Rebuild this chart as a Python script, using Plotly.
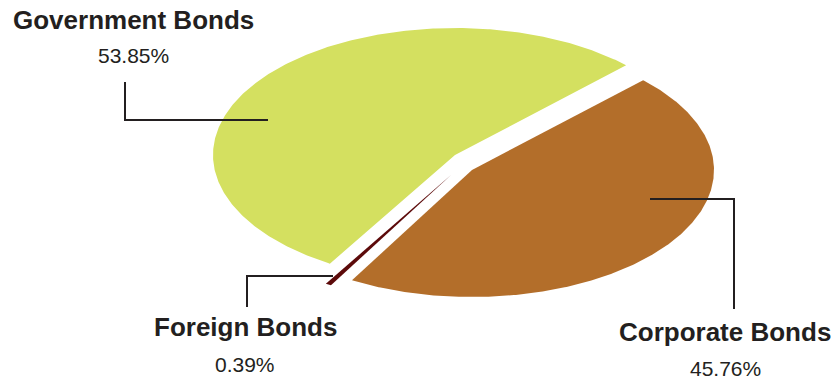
import numpy as np
import plotly.graph_objects as go

# ---- data ----
categories = ["Corporate Bonds", "Foreign Bonds", "Government Bonds"]  # clockwise order
values = [45.76, 0.39, 53.85]
pct_labels = ["45.76%", "0.39%", "53.85%"]
colors = ["#B36E2A", "#5C0A0A", "#D4E060"]

# ---- geometry / style ----
W, H = 837, 385
cx, cy = 463, 162          # unexploded pie centre (pixels)
rx, ry = 242, 127          # ellipse radii
start_deg = 45             # first slice starts here, goes clockwise
offsets = {"Corporate Bonds": (9, 8), "Foreign Bonds": (-12, 13), "Government Bonds": (-8, -7)}

fig = go.Figure()
total = sum(values)
a0 = start_deg
for cat, val, col in zip(categories, values, colors):
    sweep = 360.0 * val / total
    a1 = a0 - sweep
    n = max(4, int(abs(sweep) * 2))
    t = np.radians(np.linspace(a0, a1, n))
    ox, oy = offsets[cat]
    px = cx + ox
    py = cy + oy
    xs = np.concatenate([[px], px + rx * np.cos(t), [px]])
    ys = np.concatenate([[py], py - ry * np.sin(t), [py]])
    fig.add_trace(go.Scatter(x=xs, y=ys, mode="lines", fill="toself",
                             fillcolor=col, line=dict(width=0, color=col),
                             hoverinfo="skip", showlegend=False))
    a0 = a1

LINE = "#231F20"
fig.add_shape(type="path", path="M 125 82 L 125 120 L 268 120",
              line=dict(color=LINE, width=2))
fig.add_shape(type="path", path="M 247 307 L 247 276 L 333 276",
              line=dict(color=LINE, width=2))
fig.add_shape(type="path", path="M 650 199 L 734 199 L 734 309",
              line=dict(color=LINE, width=2))

FONT = "Liberation Sans, Arial, sans-serif"
label_pos = {"Government Bonds": (133, 20, 55),
             "Foreign Bonds": (245, 327, 364),
             "Corporate Bonds": (725, 332, 368)}
for cat, pl in zip(categories, pct_labels):
    x, y1, y2 = label_pos[cat]
    fig.add_annotation(x=x, y=y1, text="<b>" + cat + "</b>", showarrow=False,
                       xanchor="center", yanchor="middle",
                       font=dict(family=FONT, size=26, color=LINE))
    fig.add_annotation(x=x, y=y2, text=pl, showarrow=False,
                       xanchor="center", yanchor="middle",
                       font=dict(family=FONT, size=21, color=LINE))

fig.update_layout(
    width=W, height=H, margin=dict(l=0, r=0, t=0, b=0),
    paper_bgcolor="white", plot_bgcolor="white",
    xaxis=dict(range=[0, W], visible=False, fixedrange=True),
    yaxis=dict(range=[H, 0], visible=False, fixedrange=True),
    hovermode=False,
)
fig.write_html("out.html", config={"displayModeBar": False})
